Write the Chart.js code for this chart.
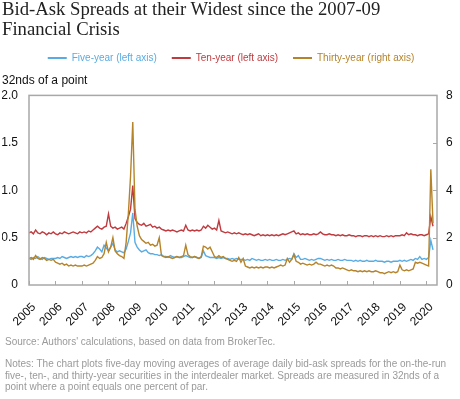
<!DOCTYPE html>
<html>
<head>
<meta charset="utf-8">
<script src="https://cdn.jsdelivr.net/npm/chart.js@4.4.1/dist/chart.umd.min.js"></script>
<style>
  body { margin: 0; background: #fff; }
  #wrap { position: relative; width: 460px; height: 399px; overflow: hidden; }
  #chart { position: absolute; left: 0; top: 0; }
  .title {
    position: absolute; left: 2px; top: -1px; width: 458px;
    font-family: "Liberation Serif", "Times New Roman", serif;
    font-size: 18.7px; line-height: 20px; color: #222;
  }
  .source, .notes {
    position: absolute; left: 5px; width: 455px;
    font-family: "Liberation Sans", Arial, sans-serif;
    font-size: 10px; color: #9a9a9a; white-space: nowrap;
  }
  .source { top: 335.5px; line-height: 12px; }
  .notes { top: 358px; line-height: 11.7px; }
</style>
</head>
<body>
<div id="wrap">
  <canvas id="chart" width="460" height="399"></canvas>
  <div class="title">Bid-Ask Spreads at their Widest since the 2007-09<br>Financial Crisis</div>
  <div class="source">Source: Authors' calculations, based on data from BrokerTec.</div>
  <div class="notes">Notes: The chart plots five-day moving averages of average daily bid-ask spreads for the on-the-run<br>five-, ten-, and thirty-year securities in the interdealer market. Spreads are measured in 32nds of a<br>point where a point equals one percent of par.</div>
</div>
<script>
// monthly readings, Jan 2005 .. Apr 2020
const months = Array.from({ length: 184 }, (_, i) => 2005 + i / 12)
const years = [2005, 2006, 2007, 2008, 2009, 2010, 2011, 2012, 2013, 2014, 2015, 2016, 2017, 2018, 2019, 2020]

// five-year, 32nds (left axis)
const fiveYear = [
  0.28, 0.27, 0.29, 0.28, 0.30, 0.28, 0.27, 0.29, 0.28, 0.27, 0.28, 0.28,
  0.28, 0.29, 0.28, 0.30, 0.29, 0.28, 0.29, 0.30, 0.29, 0.30, 0.29, 0.30,
  0.30, 0.29, 0.31, 0.30, 0.31, 0.33, 0.36, 0.40, 0.38, 0.35, 0.42, 0.39,
  0.36, 0.40, 0.44, 0.37, 0.35, 0.36, 0.35, 0.34, 0.38, 0.46, 0.55, 0.76,
  0.45, 0.40, 0.37, 0.35, 0.36, 0.37, 0.34, 0.33, 0.33, 0.32, 0.32, 0.31,
  0.32, 0.30, 0.30, 0.29, 0.31, 0.30, 0.29, 0.30, 0.29, 0.29, 0.30, 0.31,
  0.30, 0.29, 0.29, 0.30, 0.29, 0.28, 0.29, 0.36, 0.31, 0.30, 0.29, 0.29,
  0.29, 0.28, 0.29, 0.28, 0.29, 0.28, 0.28, 0.27, 0.28, 0.27, 0.28, 0.27,
  0.27, 0.27, 0.26, 0.27, 0.26, 0.28, 0.27, 0.26, 0.27, 0.26, 0.26, 0.27,
  0.26, 0.27, 0.26, 0.26, 0.27, 0.26, 0.26, 0.27, 0.26, 0.27, 0.28, 0.27,
  0.33, 0.29, 0.31, 0.27, 0.27, 0.28, 0.27, 0.26, 0.27, 0.26, 0.27, 0.28,
  0.28, 0.27, 0.26, 0.27, 0.26, 0.27, 0.26, 0.26, 0.27, 0.26, 0.26, 0.27,
  0.26, 0.26, 0.26, 0.25, 0.26, 0.25, 0.26, 0.25, 0.25, 0.26, 0.25, 0.25,
  0.25, 0.26, 0.25, 0.25, 0.25, 0.24, 0.25, 0.25, 0.24, 0.25, 0.25, 0.25,
  0.26, 0.25, 0.26, 0.25, 0.26, 0.27, 0.26, 0.28, 0.27, 0.30, 0.27, 0.28,
  0.27, 0.29, 0.47, 0.37
]

// ten-year, 32nds (left axis)
const tenYear = [
  0.55, 0.56, 0.54, 0.58, 0.55, 0.54, 0.56, 0.55, 0.53, 0.55, 0.54, 0.56,
  0.54, 0.53, 0.55, 0.54, 0.56, 0.55, 0.54, 0.55, 0.56, 0.55, 0.54, 0.56,
  0.55, 0.56, 0.55, 0.57, 0.56, 0.58, 0.60, 0.62, 0.60, 0.59, 0.61, 0.62,
  0.75, 0.62, 0.60, 0.61, 0.59, 0.60, 0.61, 0.59, 0.65, 0.72, 0.80, 1.05,
  0.70, 0.66, 0.64, 0.63, 0.65, 0.62, 0.63, 0.64, 0.61, 0.62, 0.60, 0.61,
  0.59, 0.58, 0.57, 0.58, 0.57, 0.58, 0.57, 0.56, 0.57, 0.58, 0.57, 0.63,
  0.58, 0.57, 0.58, 0.57, 0.58, 0.57, 0.58, 0.62, 0.60, 0.63, 0.61, 0.59,
  0.60, 0.58, 0.68, 0.57, 0.56, 0.55, 0.56, 0.55, 0.54, 0.55, 0.54, 0.55,
  0.54, 0.53, 0.54, 0.53, 0.54, 0.53, 0.52, 0.53, 0.54, 0.52, 0.53, 0.52,
  0.53, 0.52, 0.53, 0.52, 0.53, 0.52, 0.53, 0.54, 0.53, 0.54, 0.55, 0.56,
  0.57, 0.54, 0.55, 0.53, 0.54, 0.53, 0.54, 0.53, 0.53, 0.54, 0.53, 0.54,
  0.56, 0.54, 0.53, 0.53, 0.54, 0.53, 0.53, 0.52, 0.53, 0.52, 0.53, 0.52,
  0.52, 0.53, 0.52, 0.52, 0.51, 0.52, 0.52, 0.51, 0.52, 0.52, 0.51, 0.52,
  0.51, 0.52, 0.51, 0.52, 0.51, 0.51, 0.52, 0.51, 0.52, 0.51, 0.52, 0.52,
  0.52, 0.53, 0.52, 0.55, 0.53, 0.54, 0.53, 0.53, 0.52, 0.53, 0.53, 0.52,
  0.53, 0.54, 0.72, 0.62
]

// thirty-year, 32nds (right axis)
const thirtyYear = [
  1.12, 1.16, 1.08, 1.24, 1.12, 1.08, 1.16, 1.12, 1.04, 1.08, 1.04, 1.08,
  0.96, 0.92, 0.88, 0.92, 0.84, 0.88, 0.80, 0.84, 0.80, 0.84, 0.80, 0.80,
  0.80, 0.84, 0.80, 0.84, 0.88, 0.92, 1.04, 1.20, 1.12, 1.16, 1.32, 1.80,
  1.40, 1.60, 2.00, 1.44, 1.32, 1.24, 1.20, 1.12, 1.80, 3.00, 4.60, 6.88,
  3.20, 2.48, 2.08, 1.92, 1.84, 1.76, 1.80, 1.68, 1.72, 1.64, 1.68, 2.00,
  1.24, 1.20, 1.16, 1.20, 1.16, 1.12, 1.16, 1.20, 1.16, 1.20, 1.24, 1.68,
  1.28, 1.20, 1.16, 1.20, 1.16, 1.12, 1.20, 1.64, 1.60, 1.52, 1.60, 1.40,
  1.20, 1.16, 1.24, 1.16, 1.20, 1.12, 1.08, 1.04, 1.00, 1.04, 1.00, 1.16,
  0.96, 1.12, 0.80, 0.76, 0.72, 0.76, 0.72, 0.76, 0.72, 0.76, 0.72, 0.76,
  0.76, 0.72, 0.76, 0.72, 0.76, 0.80, 0.84, 0.80, 0.84, 1.12, 0.96, 1.08,
  1.28, 1.00, 0.96, 0.88, 0.92, 0.88, 0.84, 0.88, 0.84, 0.88, 0.96, 0.88,
  0.88, 0.84, 0.80, 0.84, 0.80, 0.84, 0.80, 0.72, 0.72, 0.68, 0.72, 0.68,
  0.64, 0.60, 0.64, 0.60, 0.60, 0.56, 0.60, 0.56, 0.60, 0.56, 0.60, 0.56,
  0.56, 0.60, 0.56, 0.52, 0.52, 0.48, 0.52, 0.56, 0.52, 0.56, 0.52, 0.56,
  0.84, 0.64, 0.60, 0.64, 0.60, 0.64, 0.68, 0.96, 0.92, 0.96, 0.92, 0.88,
  0.84, 0.80, 4.88, 2.60
]

const BLUE = '#58ace3'
const RED = '#bf3b3f'
const BROWN = '#b5832a'
const FRAME = '#a8a8a8'

function points(values) {
  return values.map((v, i) => ({ x: months[i], y: v }))
}

// box round the plot plus the short inward ticks
const frame = {
  id: 'frame',
  afterDatasetsDraw(chart) {
    const { ctx, chartArea: a, scales } = chart
    ctx.save()
    ctx.strokeStyle = FRAME
    ctx.lineWidth = 1.5
    ctx.strokeRect(a.left, a.top, a.right - a.left, a.bottom - a.top)
    ctx.lineWidth = 1
    ctx.beginPath()
    years.forEach(y => {
      const px = Math.round(scales.x.getPixelForValue(y)) + 0.5
      ctx.moveTo(px, a.bottom)
      ctx.lineTo(px, a.bottom - 4)
    })
    ;[2, 4, 6].forEach(v => {
      const py = Math.round(scales.y2.getPixelForValue(v)) + 0.5
      ctx.moveTo(a.right, py)
      ctx.lineTo(a.right - 4, py)
    })
    ctx.stroke()
    ctx.restore()
  }
}

const tickFont = { family: 'Liberation Sans, Arial, sans-serif', size: 12 }

new Chart(document.getElementById('chart'), {
  type: 'line',
  data: {
    datasets: [
      { label: 'Five-year (left axis)', data: points(fiveYear), borderColor: BLUE, yAxisID: 'y', order: 2 },
      { label: 'Ten-year (left axis)', data: points(tenYear), borderColor: RED, yAxisID: 'y', order: 1 },
      { label: 'Thirty-year (right axis)', data: points(thirtyYear), borderColor: BROWN, yAxisID: 'y2', order: 0 }
    ]
  },
  options: {
    responsive: false,
    devicePixelRatio: 1,
    animation: false,
    elements: {
      line: { borderWidth: 1.4, tension: 0 },
      point: { radius: 0 }
    },
    layout: { padding: { top: 38, left: 2, right: 0, bottom: 69 } },
    plugins: {
      tooltip: { enabled: false },
      legend: {
        position: 'top',
        labels: {
          font: { family: 'Liberation Sans, Arial, sans-serif', size: 10 },
          boxWidth: 19,
          boxHeight: 2,
          padding: 15,
          generateLabels(chart) {
            return chart.data.datasets.map((ds, i) => ({
              text: ds.label,
              fillStyle: ds.borderColor,
              strokeStyle: ds.borderColor,
              fontColor: ds.borderColor,
              lineWidth: 0,
              hidden: false,
              datasetIndex: i
            }))
          }
        }
      },
      subtitle: {
        display: true,
        text: '32nds of a point',
        align: 'start',
        position: 'top',
        weight: 500,
        color: '#111',
        font: { family: 'Liberation Sans, Arial, sans-serif', size: 12, weight: 'normal' },
        padding: { top: 0, bottom: 8 }
      }
    },
    scales: {
      x: {
        type: 'linear',
        min: 2005,
        max: 2020.4,
        afterBuildTicks: scale => { scale.ticks = years.map(v => ({ value: v })) },
        afterFit: scale => { scale.height = 45 },
        grid: { display: false },
        border: { display: false },
        ticks: {
          autoSkip: false,
          minRotation: 45,
          maxRotation: 45,
          padding: 7,
          labelOffset: 5,
          color: '#111',
          font: tickFont,
          callback: v => String(v)
        }
      },
      y: {
        position: 'left',
        min: 0,
        max: 2,
        afterFit: scale => { scale.width = 27 },
        grid: { display: false, drawTicks: false },
        border: { display: false },
        ticks: {
          stepSize: 0.5,
          padding: 11,
          color: '#111',
          font: tickFont,
          callback: v => v === 0 ? '0' : v.toFixed(1)
        }
      },
      y2: {
        position: 'right',
        min: 0,
        max: 8,
        afterFit: scale => { scale.width = 23 },
        grid: { display: false, drawTicks: false },
        border: { display: false },
        ticks: {
          stepSize: 2,
          padding: 9,
          color: '#111',
          font: tickFont
        }
      }
    }
  },
  plugins: [frame]
})
</script>
</body>
</html>
